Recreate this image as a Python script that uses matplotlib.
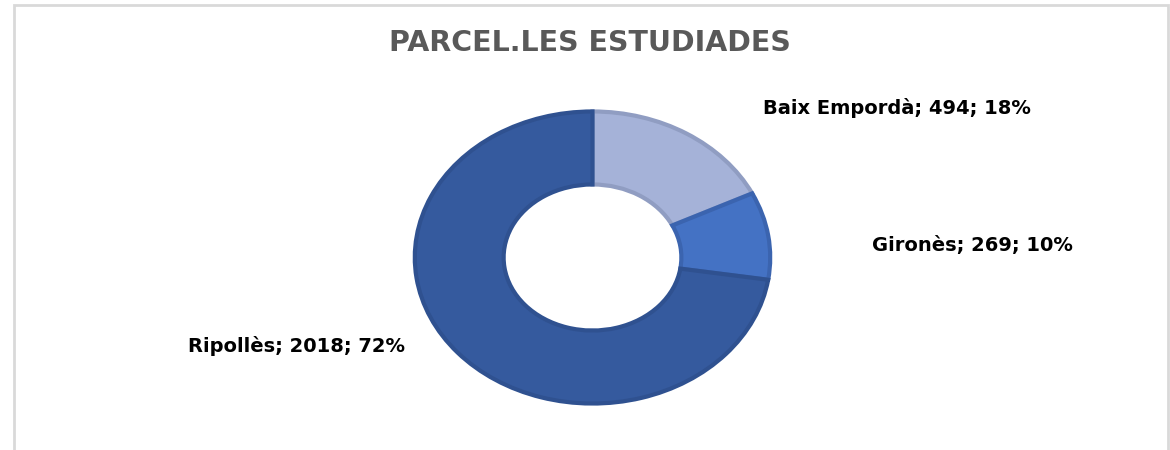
import numpy as np
import matplotlib.pyplot as plt
from matplotlib.patches import Rectangle

# data
comarques = ["Baix Empordà", "Gironès", "Ripollès"]
parceles = [494, 269, 2018]
percents = [18, 10, 72]

fills = ["#A5B2D8", "#4472C4", "#355A9E"]
edges = ["#909DC2", "#3B64AF", "#2F5190"]

plt.rcParams['font.family'] = ['DejaVu Sans']

fig = plt.figure(figsize=(11.7, 4.5), dpi=100)

# chart frame
fig.patches.append(Rectangle((14/1170, -0.1), (1168-14)/1170, 1.1 - 5/450,
                             transform=fig.transFigure, fill=False,
                             edgecolor="#D9D9D9", linewidth=2))

ax = fig.add_axes([413/1170, 45/450, 359/1170, 295/450])
wedges, _ = ax.pie(parceles, startangle=90, counterclock=False, colors=fills,
                   radius=1, wedgeprops=dict(width=0.5, linewidth=3))
for w, ec in zip(wedges, edges):
    w.set_edgecolor(ec)
ax.set_aspect('auto')
ax.set_xlim(-1.01, 1.01)
ax.set_ylim(-1.01, 1.01)

fig.text(590/1170, 1 - 43/450, "PARCEL.LES ESTUDIADES", ha='center', va='center',
         fontsize=20.5, fontweight='bold', color="#595959")

# data labels
label_pos = [(763, 108, 'left'), (872, 246, 'left'), (405, 346, 'right')]
for name, n, p, (x, y, ha) in zip(comarques, parceles, percents, label_pos):
    fig.text(x/1170, 1 - y/450, f"{name}; {n}; {p}%", ha=ha, va='center',
             fontsize=14, fontweight='bold', color="black")

fig.savefig("out.png", dpi=100)
